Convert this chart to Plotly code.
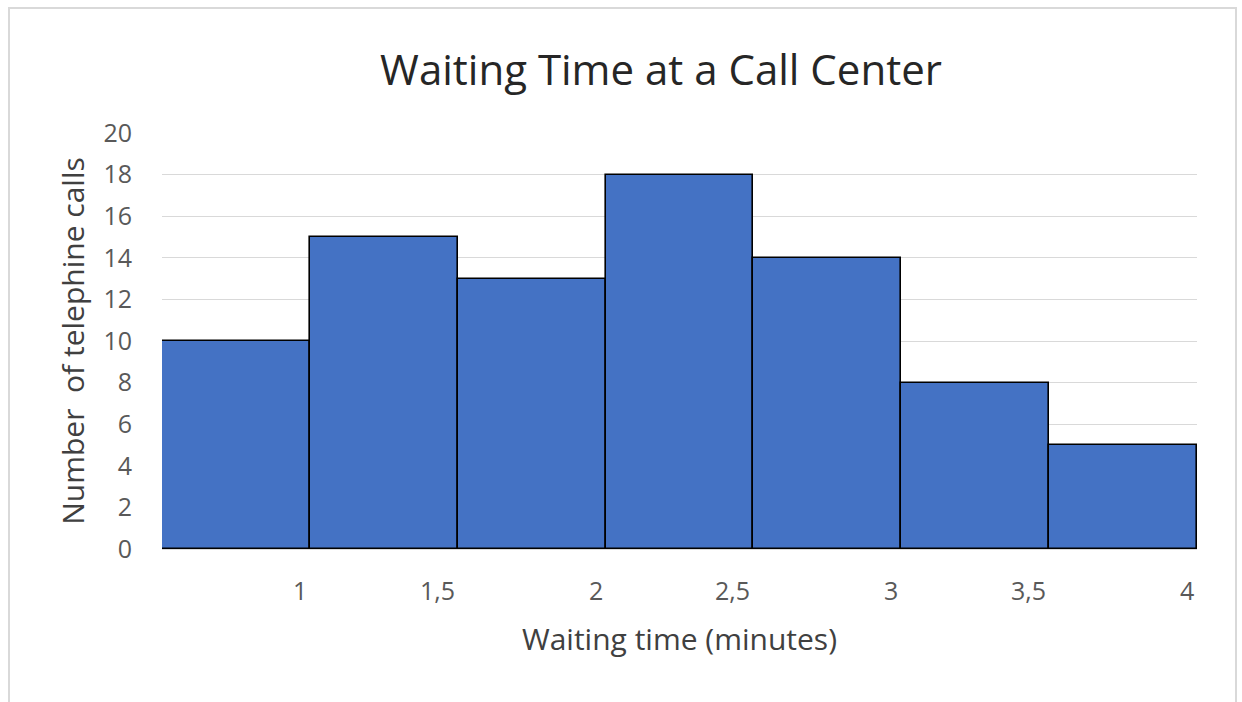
import plotly.graph_objects as go

# Data
bin_edges = [0.5, 1.0, 1.5, 2.0, 2.5, 3.0, 3.5, 4.0]
counts = [10, 15, 13, 18, 14, 8, 5]
tick_labels = ["1", "1,5", "2", "2,5", "3", "3,5", "4"]
y_ticks = [0, 2, 4, 6, 8, 10, 12, 14, 16, 18, 20]

centers = [(a + b) / 2 for a, b in zip(bin_edges[:-1], bin_edges[1:])]
widths = [b - a for a, b in zip(bin_edges[:-1], bin_edges[1:])]

W, H = 1242, 702
ml, mr, mt, mb = 162, 45, 133, 153

fig = go.Figure()
fig.add_trace(go.Bar(
    x=centers, y=counts, width=widths,
    marker=dict(color="#4472C4", line=dict(color="#000000", width=1.6)),
    hoverinfo="x+y",
))

pw = W - ml - mr
ph = H - mt - mb
def px_x(p):
    return (p - ml) / pw
def px_y(p):
    return (H - mb - p) / ph

# x category labels, right-aligned at each bin's upper edge (Excel style)
annotations = [dict(x=e, y=px_y(590), xref="x", yref="paper", text=t, showarrow=False,
                    xanchor="right", yanchor="middle", xshift=-1,
                    font=dict(family="Open Sans", size=25, color="#595959"))
               for e, t in zip(bin_edges[1:], tick_labels)]

fig.update_layout(
    width=W, height=H,
    margin=dict(l=ml, r=mr, t=mt, b=mb),
    paper_bgcolor="white", plot_bgcolor="white",
    font=dict(family="Open Sans", color="#595959"),
    showlegend=False,
    bargap=0,
    title=dict(text="Waiting Time at a Call Center", x=661 / W, xanchor="center",
               y=1 - 70 / H, yanchor="middle", xref="container", yref="container",
               font=dict(family="Open Sans", size=42, color="#262626")),
    xaxis=dict(range=[bin_edges[0], bin_edges[-1]], showticklabels=False,
               showgrid=False, zeroline=False, showline=True, linecolor="#d9d9d9", linewidth=1,
               ticks="",
               title=dict(text="Waiting time (minutes)", font=dict(size=30, color="#404040"), standoff=79),
               fixedrange=True),
    yaxis=dict(range=[0, 20], tickvals=y_ticks, showgrid=True, gridcolor="#d9d9d9", gridwidth=1,
               zeroline=False, showline=False, ticks="",
               tickfont=dict(size=25, color="#595959"), ticklabelstandoff=29,
               title=dict(text="Number\u00a0 of telephine calls", font=dict(size=30, color="#404040"), standoff=9),
               fixedrange=True),
    annotations=annotations,
    shapes=[dict(type="rect", xref="paper", yref="paper",
                 x0=px_x(9), x1=px_x(1236), y0=px_y(712), y1=px_y(8),
                 line=dict(color="#d9d9d9", width=2), fillcolor="rgba(0,0,0,0)", layer="below")],
)

fig.write_html("out.html", post_script="document.body.style.margin='0';",
               config={"displayModeBar": False})
